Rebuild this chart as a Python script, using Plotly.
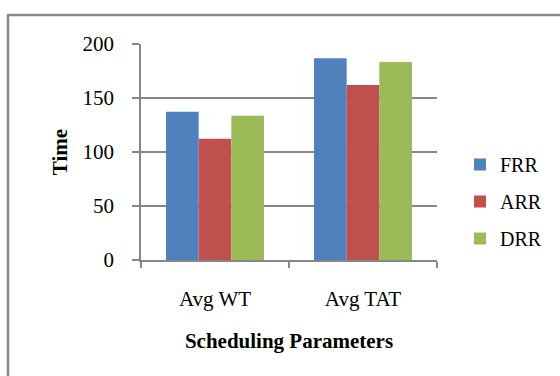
import plotly.graph_objects as go

# Scheduling comparison data
categories = ["Avg WT", "Avg TAT"]
series_names = ["FRR", "ARR", "DRR"]
frr_values = [137.3, 186.8]
arr_values = [112.2, 162.0]
drr_values = [133.6, 183.4]
colors = ["#4F81BD", "#C0504D", "#9BBB59"]
y_ticks = [0, 50, 100, 150, 200]

W, H = 560, 376
L, R, T, B = 141, 123, 44, 116
plot_w = W - L - R
plot_h = H - T - B

fig = go.Figure()
for i, (name, vals) in enumerate(zip(series_names, [frr_values, arr_values, drr_values])):
    fig.add_trace(go.Bar(
        x=categories, y=vals, name=name,
        marker=dict(color=colors[i], line=dict(width=0)),
        legendgroup=name,
    ))

font_family = "Liberation Serif, Times New Roman, serif"
grid_col = "#878787"


def px_to_paper_x(px):
    return (px - L) / plot_w


def px_to_paper_y(py):
    return (H - B - py) / plot_h


fig.update_layout(
    width=W, height=H,
    margin=dict(l=L, r=R, t=T, b=B, pad=0),
    paper_bgcolor="white", plot_bgcolor="white",
    font=dict(family=font_family, size=21, color="black"),
    barmode="group", bargap=0.338, bargroupgap=0,
    showlegend=True,
    legend=dict(
        x=px_to_paper_x(460), y=px_to_paper_y(145), xanchor="left", yanchor="top",
        font=dict(size=20), tracegroupgap=8, bgcolor="rgba(0,0,0,0)",
        borderwidth=0,
    ),
    xaxis=dict(
        showline=True, linecolor=grid_col, linewidth=1.5,
        ticks="outside", ticklen=6, tickcolor=grid_col, tickwidth=1.5,
        tickson="boundaries", ticklabelstandoff=19,
        showgrid=False,
        title=dict(text="<b>Scheduling Parameters</b>", font=dict(size=21), standoff=23),
    ),
    yaxis=dict(
        range=[0, 200], tickvals=y_ticks,
        showline=True, linecolor=grid_col, linewidth=1.5,
        ticks="outside", ticklen=7, tickcolor=grid_col, tickwidth=1.5,
        showgrid=True, gridcolor=grid_col, gridwidth=1.5,
        zeroline=False, ticklabelstandoff=14,
        title=dict(text="<b>Time</b>", font=dict(size=21), standoff=9),
    ),
    shapes=[dict(
        type="rect", xref="paper", yref="paper",
        x0=px_to_paper_x(8), x1=px_to_paper_x(W + 20),
        y0=px_to_paper_y(H + 20), y1=px_to_paper_y(15),
        line=dict(color="#898989", width=2.5), fillcolor="rgba(0,0,0,0)", layer="below",
    )],
)

fig.write_html("out.html")
